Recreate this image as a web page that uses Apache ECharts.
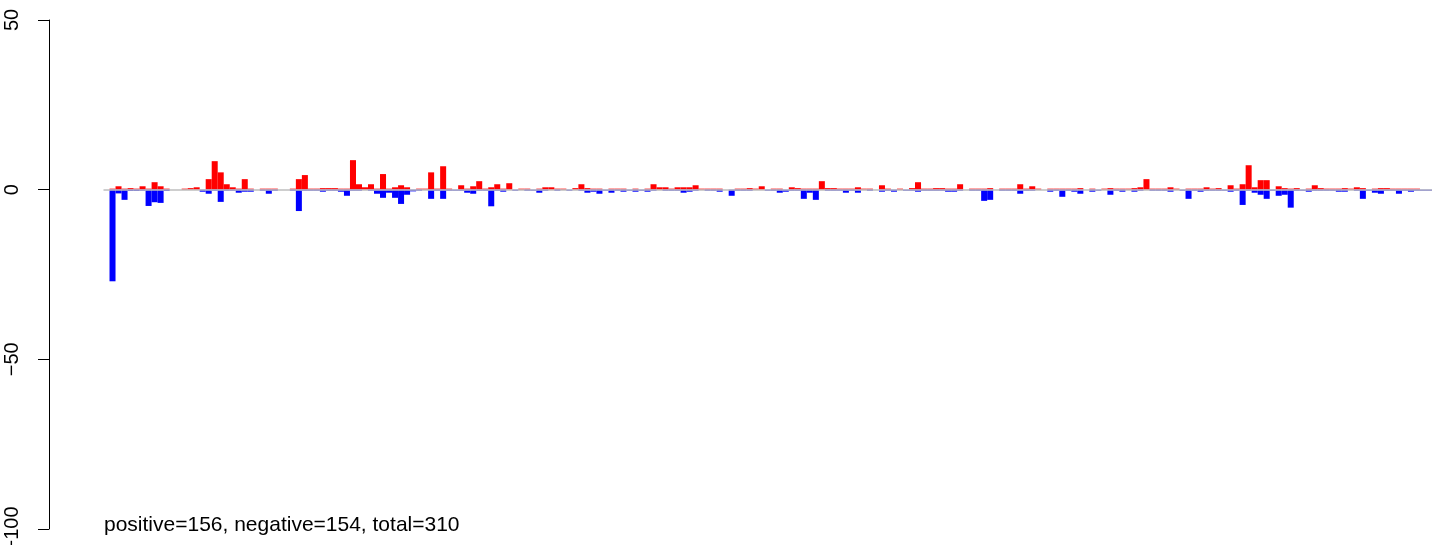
<!DOCTYPE html>
<html>
<head>
<meta charset="utf-8">
<script src="https://cdn.jsdelivr.net/npm/echarts@6/dist/echarts.min.js"></script>
<style>
html,body{margin:0;padding:0;background:#fff;overflow:hidden;}
#chart{width:1441px;height:545px;}
</style>
</head>
<body>
<div id="chart"></div>
<script>
// positive (red) values per position
const positive = [
0,0.3,1.0,0.3,0.45,0.3,1.0,0.3,2.2,1.0, 0.3,0,0,0.3,0.45,0.7,0,3.1,8.4,5.1,
1.6,0.7,0.3,3.1,0.3,0,0.3,0.3,0.3,0, 0,0.3,3.1,4.3,0.3,0.3,0.45,0.45,0.45,0.3,
0.3,8.7,1.6,0.7,1.6,0.3,4.6,0.3,0.7,1.3, 0.7,0,0.3,0.3,5.1,0.3,6.9,0.3,0,1.3,
0.3,1.0,2.5,0.3,0.7,1.6,0.3,1.9,0,0.3, 0.3,0,0.3,0.7,0.7,0.3,0.3,0,0.45,1.6,
0.45,0.3,0.3,0,0.3,0.3,0.3,0,0.3,0, 0.3,1.6,0.7,0.7,0.3,0.7,0.7,0.7,1.3,0.3,
0.3,0.3,0.3,0,0,0.3,0.3,0.45,0.3,1.0, 0,0.3,0.3,0,0.7,0.45,0.3,0.3,0.3,2.5,
0.45,0.45,0.3,0.3,0.3,0.7,0.3,0.3,0,1.3, 0.3,0,0.3,0,0.45,2.2,0.3,0.3,0.45,0.45,
0.3,0.3,1.6,0,0.3,0.3,0.3,0.45,0,0.3, 0.3,0.3,1.6,0.3,1.0,0.3,0,0.3,0.3,0.3,
0.3,0.3,0.45,0,0.3,0,0.3,0.45,0.3,0.3, 0.3,0.45,0.7,3.1,0.3,0.3,0.3,0.7,0.3,0,
0.3,0.3,0.3,0.7,0.3,0.45,0,1.3,0.3,1.6, 7.2,0.7,2.8,2.8,0,1.0,0.45,0.3,0.45,0,
0.3,1.3,0.45,0.3,0.3,0.3,0.45,0.3,0.7,0.45, 0,0.3,0.45,0.45,0.3,0.3,0.3,0.3,0.3,0,
0
];
// negative (blue) values per position
const negative = [
0,-27,-1.1,-3.0,-0.4,-0.4,-0.3,-4.8,-3.7,-3.9, -0.4,0,0,0,0,0,-0.6,-1.2,-0.3,-3.6,
-0.3,-0.3,-0.9,-0.6,-0.6,0,-0.3,-1.2,-0.3,0, 0,-0.3,-6.3,-0.3,-0.3,-0.3,-0.6,-0.3,-0.3,-0.6,
-1.8,-0.3,-0.3,0,-0.3,-1.2,-2.4,-0.9,-2.4,-4.2, -1.5,-0.5,-0.3,0,-2.7,-0.3,-2.7,-0.3,-0.3,-0.3,
-0.9,-1.2,-0.3,-0.3,-4.9,-0.3,-0.6,0,-0.3,0, -0.3,-0.3,-0.9,-0.3,0,-0.3,0,-0.3,0,-0.3,
-0.9,-0.6,-1.2,-0.3,-0.9,-0.3,-0.6,-0.3,-0.6,-0.3, -0.6,-0.3,0,-0.3,-0.3,-0.3,-0.9,-0.6,-0.3,0,
-0.3,-0.3,-0.6,0,-1.8,-0.3,-0.3,-0.3,0,0, -0.3,-0.3,-0.9,-0.6,-0.3,-0.3,-2.7,-0.9,-3.0,0,
-0.3,-0.3,-0.3,-0.9,-0.3,-0.9,0,-0.3,0,-0.6, -0.3,-0.6,0,-0.3,-0.3,-0.6,-0.3,-0.3,-0.3,-0.3,
-0.6,-0.6,-0.3,0,-0.3,-0.3,-3.3,-3.0,0,-0.3, -0.3,-0.3,-1.2,-0.3,-0.3,0,0,-0.6,-0.3,-2.1,
-0.3,-0.6,-1.2,0,-0.6,-0.3,0,-1.5,-0.3,-0.6, 0,-0.6,-0.3,0,-0.3,-0.3,-0.3,-0.6,0,-0.3,
-2.7,-0.3,-0.6,-0.3,-0.3,-0.3,-0.3,-0.6,-0.3,-4.5, -0.3,-0.9,-1.5,-2.7,-0.3,-1.8,-1.5,-5.3,-0.3,-0.3,
-0.6,-0.3,-0.3,-0.3,-0.3,-0.6,-0.6,0,-0.3,-2.7, -0.3,-0.9,-1.2,-0.3,-0.3,-1.2,-0.3,-0.6,-0.3,-0.3,
-0.3
];
const yTicks = [-100, -50, 0, 50];
const summaryText = 'positive=156, negative=154, total=310';

const categories = positive.map((_, i) => String(i + 1));

const chart = echarts.init(document.getElementById('chart'), null, {renderer: 'canvas'});
const FONT = '"Liberation Sans", Arial, Helvetica, sans-serif';
chart.setOption({
  animation: false,
  backgroundColor: '#ffffff',
  grid: {left: 103.5, right: 9, top: 20, bottom: 16, containLabel: false, outerBoundsMode: 'none'},
  xAxis: {
    type: 'category', data: categories, show: false, boundaryGap: true
  },
  yAxis: {
    type: 'value', min: yTicks[0], max: yTicks[yTicks.length - 1], interval: 50,
    offset: 54.5,
    axisLine: {show: true, lineStyle: {color: '#000', width: 1}},
    axisTick: {show: true, length: 11, lineStyle: {color: '#000', width: 1}},
    splitLine: {show: false},
    axisLabel: {
      rotate: 90, margin: 27, color: '#000', fontSize: 20, fontFamily: FONT,
      formatter: v => String(v).replace('-', '\u2212')
    }
  },
  series: [
    {
      type: 'bar', data: [], z: 1, silent: true,
      markLine: {
        silent: true, symbol: 'none', label: {show: false},
        lineStyle: {color: '#BEBEBE', type: 'solid', width: 1.5},
        data: [{yAxis: 0}]
      }
    },
    {
      type: 'bar', data: positive, z: 2, barGap: '-100%', barCategoryGap: '0%',
      itemStyle: {color: '#FF0000'}
    },
    {
      type: 'bar', data: negative, z: 3, barGap: '-100%', barCategoryGap: '0%',
      itemStyle: {color: '#0000FF'}
    }
  ],
  graphic: [{
    type: 'text', left: 104, top: 515,
    style: {text: summaryText, fill: '#000', font: '21px ' + FONT}
  }]
});
</script>
</body>
</html>
